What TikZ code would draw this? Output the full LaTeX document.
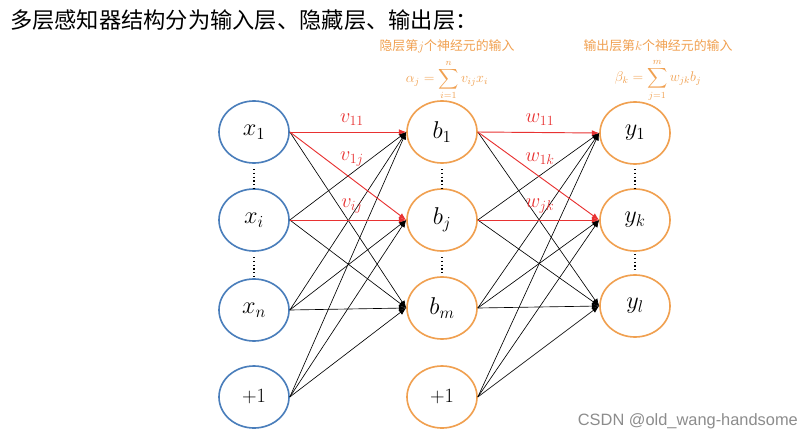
\documentclass[tikz,border=0pt]{standalone}
\usepackage{amsmath,amssymb}
\usepackage{fontspec}
\newfontfamily\cjk{Noto Sans CJK SC}
\newfontfamily\wmfont{Liberation Sans}
\usetikzlibrary{arrows.meta,shapes.geometric}
\definecolor{inblue}{RGB}{74,126,187}
\definecolor{hidorange}{RGB}{240,160,80}
\definecolor{wred}{RGB}{232,50,50}
\tikzset{
  unit/.style={ellipse,line width=1.4pt,minimum width=2.1cm,minimum height=1.86cm,inner sep=0pt,font=\huge},
  inunit/.style={unit,draw=inblue},
  hidunit/.style={unit,draw=hidorange},
  conn/.style={-{Latex[length=2.2mm,width=1.7mm]},line width=0.55pt},
  redconn/.style={conn,draw=wred,line width=0.8pt},
  wlabel/.style={text=wred,font=\LARGE},
  vdots/.style={dotted,line width=1.2pt},
  note/.style={text=hidorange,font=\cjk\fontsize{11}{13}\selectfont,inner sep=1pt},
  sumnote/.style={text=hidorange,font=\large,inner sep=0pt}
}

\begin{document}
\begin{tikzpicture}[x=0.03cm,y=-0.03cm]
\useasboundingbox (0,0) rectangle (812,445);
% title
\node[anchor=west,font=\cjk\fontsize{19}{21}\selectfont] (title) at (6,20) {多层感知器结构分为输入层、隐藏层、输出层：};

% input layer
\node[inunit] (x1) at (254,132) {$x_1$};
\node[inunit] (xi) at (254,220) {$x_i$};
\node[inunit] (xn) at (254,310) {$x_n$};
\node[inunit,font=\LARGE] (xb) at (254,397) {$+1$};

% hidden layer
\node[hidunit] (b1) at (442,132) {$b_1$};
\node[hidunit] (bj) at (442,220) {$b_j$};
\node[hidunit] (bm) at (442,308) {$b_m$};
\node[hidunit,font=\LARGE] (bb) at (442,397) {$+1$};

% output layer
\node[hidunit] (y1) at (635,133) {$y_1$};
\node[hidunit] (yk) at (635,220) {$y_k$};
\node[hidunit] (yl) at (635,306) {$y_l$};

% dots between units
\draw[vdots] (254,169)--(254,188); \draw[vdots] (254,257)--(254,276);
\draw[vdots] (442,169)--(442,188); \draw[vdots] (442,257)--(442,275);
\draw[vdots] (635,169)--(635,188); \draw[vdots] (635,254)--(635,271);

% input -> hidden
\draw[conn] (x1.east)--(bm.west);
\draw[conn] (xi.east)--(b1.west); \draw[conn] (xi.east)--(bm.west);
\draw[conn] (xn.east)--(b1.west); \draw[conn] (xn.east)--(bj.west); \draw[conn] (xn.east)--(bm.west);
\draw[conn] (xb.east)--(b1.west); \draw[conn] (xb.east)--(bj.west); \draw[conn] (xb.east)--(bm.west);
\draw[redconn] (x1.east)--(b1.west); \draw[redconn] (x1.east)--(bj.west); \draw[redconn] (xi.east)--(bj.west);
\node[wlabel] (v11) at (352,120) {$v_{11}$};
\node[wlabel] (v1j) at (352,159) {$v_{1j}$};
\node[wlabel] (vij) at (352,206) {$v_{ij}$};

% hidden -> output
\draw[conn] (b1.east)--(yl.west);
\draw[conn] (bj.east)--(y1.west); \draw[conn] (bj.east)--(yl.west);
\draw[conn] (bm.east)--(y1.west); \draw[conn] (bm.east)--(yk.west); \draw[conn] (bm.east)--(yl.west);
\draw[conn] (bb.east)--(y1.west); \draw[conn] (bb.east)--(yk.west); \draw[conn] (bb.east)--(yl.west);
\draw[redconn] (b1.east)--(y1.west); \draw[redconn] (b1.east)--(yk.west); \draw[redconn] (bj.east)--(yk.west);
\node[wlabel] (w11) at (540,120) {$w_{11}$};
\node[wlabel] (w1k) at (540,159) {$w_{1k}$};
\node[wlabel] (wjk) at (540,206) {$w_{jk}$};

% notes on the inputs of the units
\node[note] (anote) at (447,46) {隐层第$j$个神经元的输入};
\node[sumnote] (alpha) at (447,80) {$\displaystyle \alpha_j=\sum_{i=1}^{n} v_{ij}x_i$};
\node[note] (bnote) at (658,46) {输出层第$k$个神经元的输入};
\node[sumnote] (beta) at (658,80) {$\displaystyle \beta_k=\sum_{j=1}^{m} w_{jk}b_j$};

% watermark
\node[anchor=east,text=black!45,font=\wmfont\fontsize{14}{16}\selectfont] (mark) at (802,421) {CSDN @old\_wang-handsome};
\end{tikzpicture}
\end{document}
